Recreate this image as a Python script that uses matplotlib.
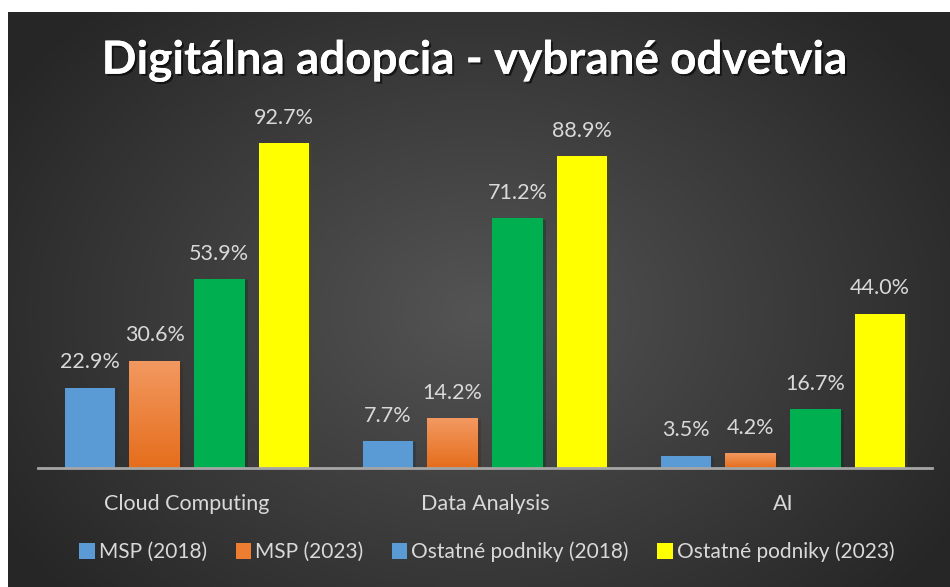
import numpy as np
import matplotlib.pyplot as plt
import matplotlib.patheffects as pe
from matplotlib.patches import Patch

# Údaje z grafu (v %)
kategorie = ['Cloud Computing', 'Data Analysis', 'AI']
serie = ['MSP (2018)', 'MSP (2023)', 'Ostatné podniky (2018)', 'Ostatné podniky (2023)']
msp_2018 = [22.9, 7.7, 3.5]
msp_2023 = [30.6, 14.2, 4.2]
ostatne_2018 = [53.9, 71.2, 16.7]
ostatne_2023 = [92.7, 88.9, 44.0]
hodnoty = [msp_2018, msp_2023, ostatne_2018, ostatne_2023]

farby = ['#5B9BD5', '#ED7D31', '#00B050', '#FFFF00']
# v pôvodnom grafe má tretia položka legendy modrý štvorček
farby_legenda = ['#5B9BD5', '#ED7D31', '#5B9BD5', '#FFFF00']
farba_textu = '#D9D9D9'
font = ['Lato', 'DejaVu Sans']
plt.rcParams['font.family'] = font

fig = plt.figure(figsize=(9.5, 5.87), dpi=100, facecolor='white')

# tmavé pozadie s radiálnym prechodom
bg = fig.add_axes([8 / 950, 0, 942 / 950, 575 / 587])
yy, xx = np.mgrid[0:575, 0:942]
d = np.sqrt(((xx - 471) / 560) ** 2 + ((yy - 300) / 420) ** 2)
d = np.clip(d, 0, 1)
svetla, tmava = 0.33, 0.15
img = svetla + (tmava - svetla) * d
bg.imshow(np.dstack([img, img, img]), aspect='auto', interpolation='bilinear')
bg.axis('off')

ax = fig.add_axes([38 / 950, 119 / 587, 894 / 950, 350.6 / 587])
ax.patch.set_alpha(0)

x = np.arange(len(kategorie))
sirka = 0.171
krok = 0.217
for i, (nazov, vals) in enumerate(zip(serie, hodnoty)):
    pos = x + (i - 1.5) * krok
    bars = ax.bar(pos, vals, sirka, color=farby[i], zorder=3,
                  path_effects=[pe.SimplePatchShadow(offset=(2, -1), alpha=0.35), pe.Normal()])
    if i == 1:
        # oranžové stĺpce majú jemný prechod
        grad = np.linspace(0, 1, 100).reshape(-1, 1)
        top = np.array([0.95, 0.60, 0.38])
        bot = np.array([0.90, 0.43, 0.11])
        cm = top + (bot - top) * grad[:, :, None] * np.ones((1, 1, 3))
        for b in bars:
            im = ax.imshow(cm, extent=[b.get_x(), b.get_x() + b.get_width(), 0, b.get_height()],
                           aspect='auto', zorder=4)
            im.set_clip_path(b)
    for p, v in zip(pos, vals):
        ax.annotate(f'{v:.1f}%', (p, v), xytext=(0, 11), textcoords='offset points',
                    ha='center', va='bottom', color=farba_textu, fontsize=15.5)

ax.set_xlim(-0.5, 2.5)
ax.set_ylim(0, 100)
ax.set_yticks([])
ax.set_xticks(x)
ax.set_xticklabels(kategorie, color=farba_textu, fontsize=15.5)
ax.tick_params(axis='x', length=0, pad=19)
for s in ['top', 'right', 'left']:
    ax.spines[s].set_visible(False)
ax.spines['bottom'].set_color('#A6A6A6')
ax.spines['bottom'].set_linewidth(2)
ax.spines['bottom'].set_zorder(5)

fig.text(0.5, 1 - 61 / 587, 'Digitálna adopcia - vybrané odvetvia', ha='center', va='center',
         color='white', fontsize=33, fontweight='bold',
         path_effects=[pe.withSimplePatchShadow(offset=(1.5, -1.5), shadow_rgbFace='black', alpha=0.6),
                       pe.Normal()])

handles = [Patch(facecolor=c) for c in farby_legenda]
fig.legend(handles, serie, loc='center', bbox_to_anchor=(487 / 950, 1 - 552 / 587), ncol=4,
           frameon=False, fontsize=15, labelcolor=farba_textu, handlelength=0.75,
           handleheight=0.75, handletextpad=0.2, columnspacing=1.35)

fig.savefig('out.png', dpi=100, facecolor='white')
